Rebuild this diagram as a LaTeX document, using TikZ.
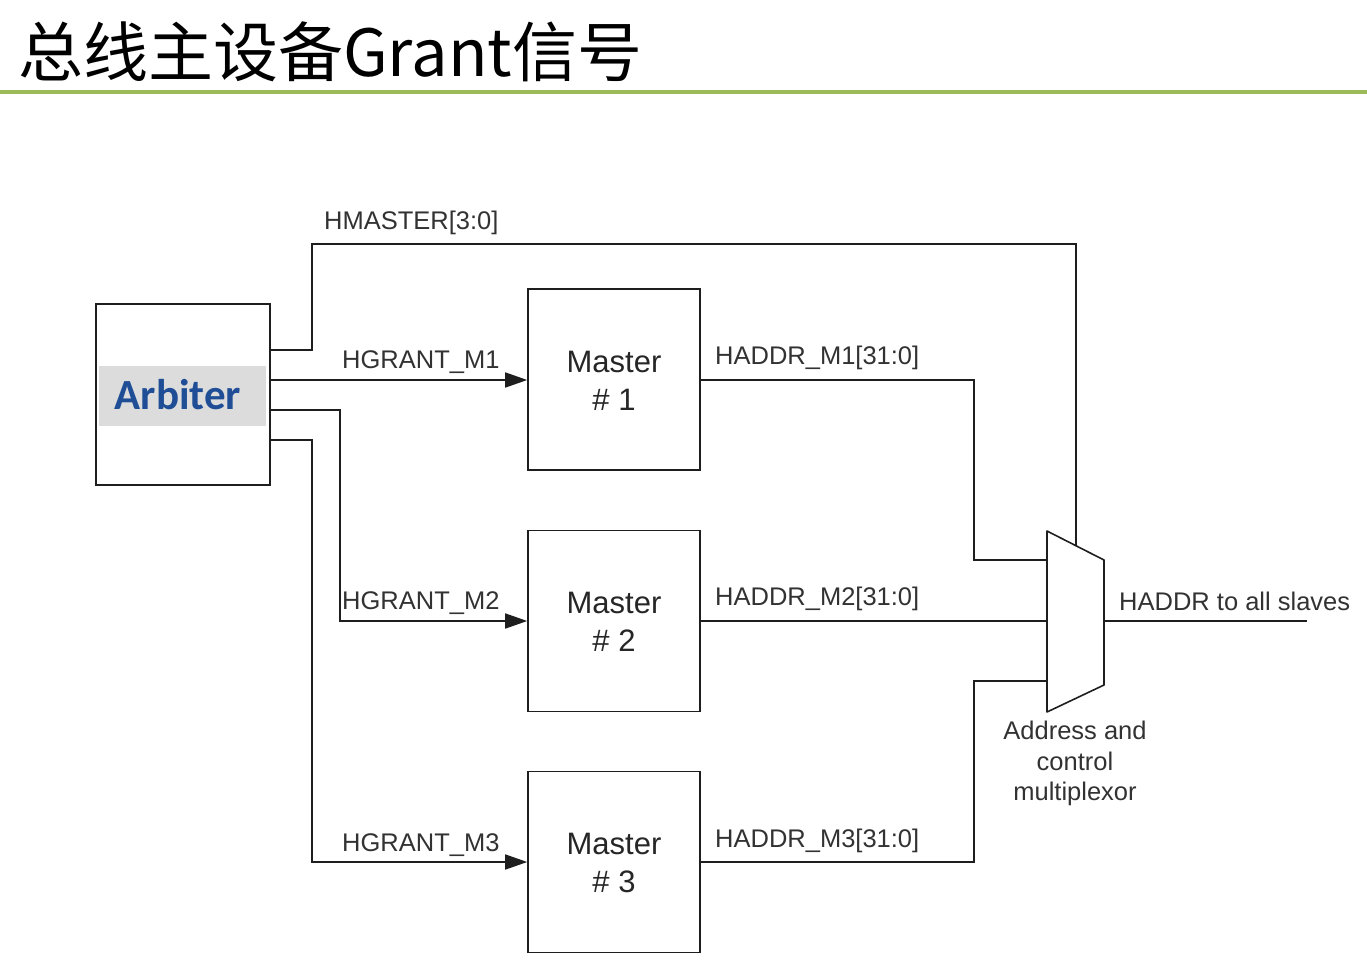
\documentclass[tikz,border=0pt]{standalone}
\usepackage{fontspec}
\setmainfont{Liberation Sans}
\newfontfamily\cjk{Noto Sans CJK SC}
\newfontfamily\calib{Carlito}
\usetikzlibrary{arrows.meta,calc}
\definecolor{titlegreen}{RGB}{155,187,89}
\definecolor{arbblue}{RGB}{31,78,150}
\definecolor{arbgrey}{RGB}{220,220,220}
\definecolor{wire}{RGB}{30,30,30}
\definecolor{lbl}{RGB}{50,50,50}
\begin{document}
\begin{tikzpicture}[x=1pt,y=-1pt,
  blockbox/.style={draw=wire,line width=1.6pt,minimum width=172pt,minimum height=181pt,inner sep=0pt},
  wireline/.style={draw=wire,line width=1.6pt},
  arrowline/.style={wireline,-{Triangle[length=22pt,width=15pt]}},
  sig/.style={text=lbl,font=\fontsize{25.5}{30}\selectfont,inner sep=0pt,anchor=base west},
  mastertext/.style={font=\fontsize{31}{38}\selectfont,align=center,text=black!85}]
\useasboundingbox (0,0) rectangle (1367,974);
% title
\node[anchor=base west,inner sep=0pt,font=\cjk\fontsize{65}{70}\selectfont] (title) at (18,76) {总线主设备Grant信号};
\draw[titlegreen,line width=3.2pt] (0,92) -- (1367,92);
% arbiter
\node[blockbox,minimum width=174pt] (arb) at (183,394.5) {};
\node[fill=arbgrey,minimum width=167pt,minimum height=60pt,inner sep=0pt] (arbband) at (182.5,396) {};
\node[text=arbblue,font=\calib\bfseries\fontsize{43}{48}\selectfont,inner sep=0pt,anchor=base] (arbtext) at (178,409) {Arbiter};
% masters
\node[blockbox] (m1) at (614,379.5) {};
\node[blockbox] (m2) at (614,621) {};
\node[blockbox] (m3) at (614,862) {};
\node[mastertext] (m1t) at (614,381) {Master\\\# 1};
\node[mastertext] (m2t) at (614,622) {Master\\\# 2};
\node[mastertext] (m3t) at (614,863) {Master\\\# 3};
% mux
\coordinate (muxtl) at (1047,531);
\coordinate (muxtr) at (1104,560);
\coordinate (muxbr) at (1104,685);
\coordinate (muxbl) at (1047,712);
\draw[wireline,line join=round] (muxtl) -- (muxtr) -- (muxbr) -- (muxbl) -- cycle;
\coordinate (muxtop) at (1076,546);
\coordinate (muxin1) at (1047,560);
\coordinate (muxin2) at (1047,621);
\coordinate (muxin3) at (1047,681);
\coordinate (muxout) at (1104,621);
\coordinate (outend) at (1307,621);
% arbiter outputs
\coordinate (a1) at (270,350);
\coordinate (a2) at (270,380);
\coordinate (a3) at (270,410);
\coordinate (a4) at (270,440);
\draw[wireline] (a1) -- (312,350) -- (312,244) -- (1076,244) -- (muxtop);
\draw[arrowline] (a2) -- (m1.west |- a2);
\draw[arrowline] (a3) -- (340,410) -- (340,621) -- (m2.west);
\draw[arrowline] (a4) -- (312,440) -- (312,862) -- (m3.west);
% haddr lines
\draw[wireline] (m1.east |- a2) -- (974,380) -- (974,560) -- (muxin1);
\draw[wireline] (m2.east) -- (muxin2);
\draw[wireline] (m3.east) -- (974,862) -- (974,681) -- (muxin3);
\draw[wireline] (muxout) -- (outend);
% labels
\node[sig] (lhm) at (324,229) {HMASTER[3:0]};
\node[sig] (lg1) at (342,368) {HGRANT\_M1};
\node[sig] (lg2) at (342,609) {HGRANT\_M2};
\node[sig] (lg3) at (342,851) {HGRANT\_M3};
\node[sig] (la1) at (715,364) {HADDR\_M1[31:0]};
\node[sig] (la2) at (715,605) {HADDR\_M2[31:0]};
\node[sig] (la3) at (715,847) {HADDR\_M3[31:0]};
\node[sig] (lout) at (1119,610) {HADDR to all slaves};
\node[text=lbl,font=\fontsize{25.5}{30.5}\selectfont,align=center,inner sep=0pt,anchor=north] (lmux) at (1075,721) {Address and\\control\\multiplexor};
\end{tikzpicture}
\end{document}
